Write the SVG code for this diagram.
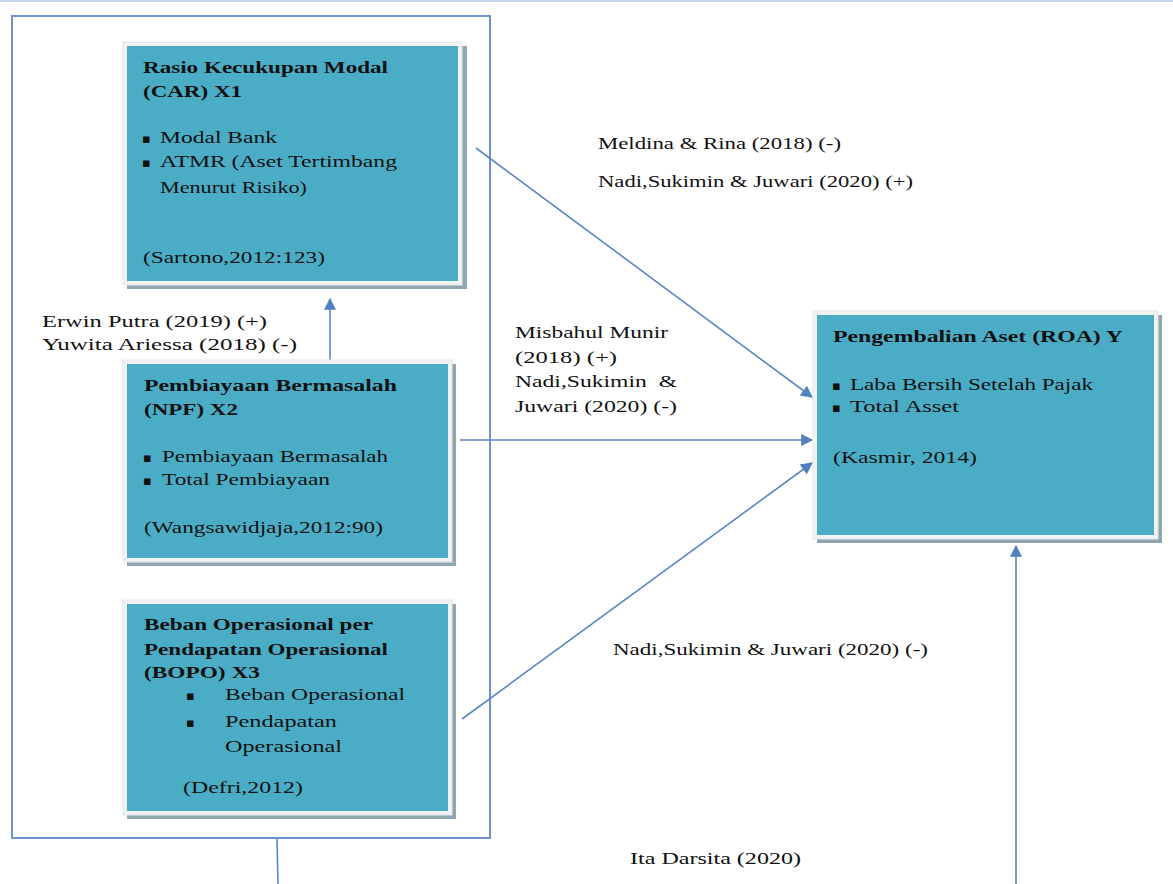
<svg xmlns="http://www.w3.org/2000/svg" width="1173" height="884" viewBox="0 0 1173 884">
<style>
text{font-family:"Liberation Serif","Times New Roman",serif;font-size:17.5px;fill:#111}
.b{font-weight:bold}
.bu{font-family:"DejaVu Sans","Liberation Serif",sans-serif;font-size:13px}
.lite{fill:#f2f2f2;stroke:#e3e6e8;stroke-width:1}
.sh{fill:#8fa6b0}
.teal{fill:#4bacc6}
.conn line{stroke:#5a86c4;stroke-width:1.6;fill:none}
</style>
<defs>
<marker id="ah2" viewBox="0 0 10 10" refX="9" refY="5" markerWidth="15" markerHeight="12" markerUnits="userSpaceOnUse" orient="auto">
<path d="M0,0 L10,5 L0,10 z" fill="#4f81bd"/>
</marker>
</defs>
<rect x="0" y="0" width="1173" height="884" fill="#fff"/>
<line x1="0" y1="1" x2="1173" y2="1" stroke="#c6d9f1" stroke-width="2"/>
<g id="frame">
<rect x="12" y="16" width="478" height="822" fill="none" stroke="#6b93cc" stroke-width="2"/>
</g>
<g class="conn" id="connectors">
<line x1="277" y1="839" x2="278" y2="884"/>
<line x1="330" y1="360" x2="330" y2="299" marker-end="url(#ah2)"/>
<line x1="476" y1="148" x2="812" y2="397" marker-end="url(#ah2)"/>
<line x1="460" y1="440" x2="812" y2="440" marker-end="url(#ah2)"/>
<line x1="462" y1="719" x2="812" y2="463" marker-end="url(#ah2)"/>
<line x1="1016" y1="884" x2="1016" y2="546" marker-end="url(#ah2)"/>
</g>
<g id="x1">
<rect class="sh" x="127" y="46" width="340" height="243"/>
<rect class="lite" x="123" y="42" width="339" height="243"/>
<rect class="teal" x="127" y="46" width="331" height="235"/>
<text class="b" x="143" y="73" textLength="245" lengthAdjust="spacingAndGlyphs">Rasio Kecukupan Modal</text>
<text class="b" x="143" y="97" textLength="99" lengthAdjust="spacingAndGlyphs">(CAR) X1</text>
<text class="bu" x="142" y="143">▪</text>
<text x="160" y="143" textLength="117" lengthAdjust="spacingAndGlyphs">Modal Bank</text>
<text class="bu" x="142" y="167">▪</text>
<text x="160" y="167" textLength="237" lengthAdjust="spacingAndGlyphs">ATMR (Aset Tertimbang</text>
<text x="160" y="193" textLength="147" lengthAdjust="spacingAndGlyphs">Menurut Risiko)</text>
<text x="143" y="263" textLength="182" lengthAdjust="spacingAndGlyphs">(Sartono,2012:123)</text>
</g>
<g id="x2">
<rect class="sh" x="127" y="364" width="329" height="202"/>
<rect class="lite" x="123" y="360" width="329" height="202"/>
<rect class="teal" x="127" y="364" width="321" height="194"/>
<text class="b" x="144" y="391" textLength="253" lengthAdjust="spacingAndGlyphs">Pembiayaan Bermasalah</text>
<text class="b" x="144" y="415" textLength="94" lengthAdjust="spacingAndGlyphs">(NPF) X2</text>
<text class="bu" x="143" y="462">▪</text>
<text x="162" y="462" textLength="226" lengthAdjust="spacingAndGlyphs">Pembiayaan Bermasalah</text>
<text class="bu" x="143" y="485">▪</text>
<text x="162" y="485" textLength="168" lengthAdjust="spacingAndGlyphs">Total Pembiayaan</text>
<text x="144" y="533" textLength="239" lengthAdjust="spacingAndGlyphs">(Wangsawidjaja,2012:90)</text>
</g>
<g id="x3">
<rect class="sh" x="127" y="604" width="329" height="215"/>
<rect class="lite" x="123" y="600" width="329" height="215"/>
<rect class="teal" x="127" y="604" width="321" height="207"/>
<text class="b" x="144" y="630" textLength="229" lengthAdjust="spacingAndGlyphs">Beban Operasional per</text>
<text class="b" x="144" y="655" textLength="244" lengthAdjust="spacingAndGlyphs">Pendapatan Operasional</text>
<text class="b" x="144" y="678" textLength="116" lengthAdjust="spacingAndGlyphs">(BOPO) X3</text>
<text class="bu" x="186" y="700">▪</text>
<text x="225" y="700" textLength="180" lengthAdjust="spacingAndGlyphs">Beban Operasional</text>
<text class="bu" x="186" y="727">▪</text>
<text x="225" y="727" textLength="112" lengthAdjust="spacingAndGlyphs">Pendapatan</text>
<text x="225" y="752" textLength="117" lengthAdjust="spacingAndGlyphs">Operasional</text>
<text x="183" y="793" textLength="120" lengthAdjust="spacingAndGlyphs">(Defri,2012)</text>
</g>
<g id="y">
<rect class="sh" x="817" y="315" width="345" height="228"/>
<rect class="lite" x="813" y="311" width="345" height="228"/>
<rect class="teal" x="817" y="315" width="337" height="220"/>
<text class="b" x="833" y="342" textLength="290" lengthAdjust="spacingAndGlyphs">Pengembalian Aset (ROA) Y</text>
<text class="bu" x="832" y="390">▪</text>
<text x="850" y="390" textLength="243" lengthAdjust="spacingAndGlyphs">Laba Bersih Setelah Pajak</text>
<text class="bu" x="832" y="412">▪</text>
<text x="850" y="412" textLength="109" lengthAdjust="spacingAndGlyphs">Total Asset</text>
<text x="833" y="463" textLength="144" lengthAdjust="spacingAndGlyphs">(Kasmir, 2014)</text>
</g>
<g id="labels">
<text x="42" y="327" textLength="225" lengthAdjust="spacingAndGlyphs">Erwin Putra (2019) (+)</text>
<text x="42" y="350" textLength="255" lengthAdjust="spacingAndGlyphs">Yuwita Ariessa (2018) (-)</text>
<text x="515" y="338" textLength="153" lengthAdjust="spacingAndGlyphs">Misbahul Munir</text>
<text x="515" y="363" textLength="102" lengthAdjust="spacingAndGlyphs">(2018) (+)</text>
<text x="515" y="387" textLength="162" lengthAdjust="spacingAndGlyphs" xml:space="preserve">Nadi,Sukimin  &amp;</text>
<text x="515" y="412" textLength="162" lengthAdjust="spacingAndGlyphs">Juwari (2020) (-)</text>
<text x="598" y="149" textLength="243" lengthAdjust="spacingAndGlyphs">Meldina &amp; Rina (2018) (-)</text>
<text x="598" y="187" textLength="315" lengthAdjust="spacingAndGlyphs">Nadi,Sukimin &amp; Juwari (2020) (+)</text>
<text x="613" y="655" textLength="315" lengthAdjust="spacingAndGlyphs">Nadi,Sukimin &amp; Juwari (2020) (-)</text>
<text x="630" y="864" textLength="171" lengthAdjust="spacingAndGlyphs">Ita Darsita (2020)</text>
</g>
</svg>
